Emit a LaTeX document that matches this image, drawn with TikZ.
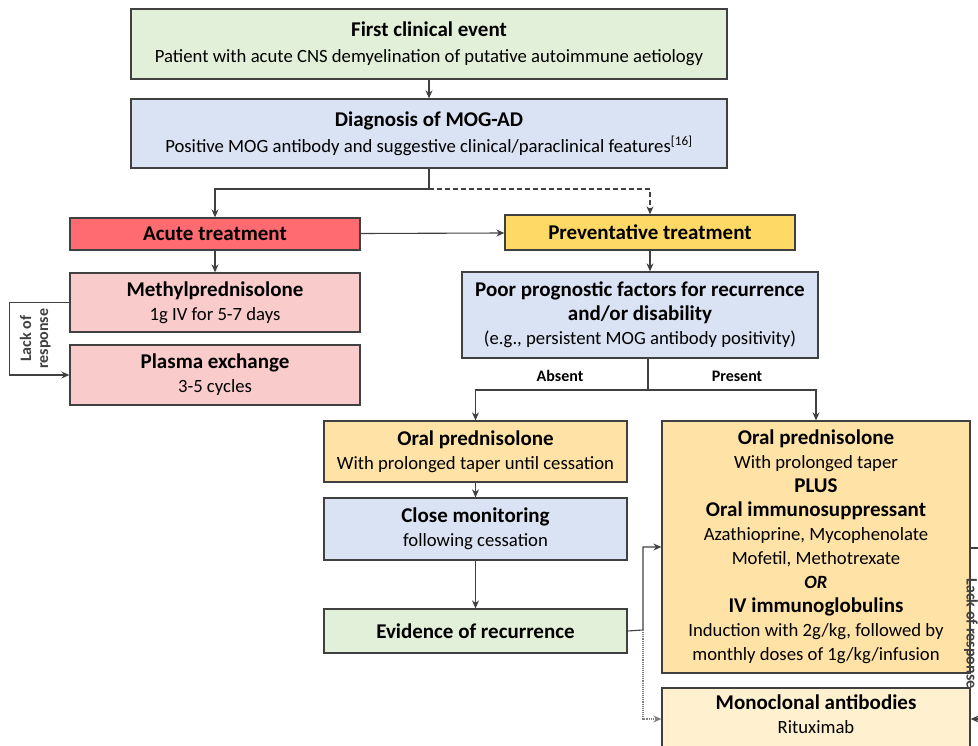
\documentclass[tikz,border=0pt]{standalone}
\usepackage{fontspec}
\setmainfont{Carlito}
\usetikzlibrary{arrows.meta}

\definecolor{evgreen}{HTML}{E2F0D9}
\definecolor{dgblue}{HTML}{DAE3F3}
\definecolor{acred}{HTML}{FF6B70}
\definecolor{acpink}{HTML}{F9CBCB}
\definecolor{pvgold}{HTML}{FFD966}
\definecolor{rxgold}{HTML}{FFE2A6}
\definecolor{mbcream}{HTML}{FFF0D0}
\definecolor{edge}{HTML}{404040}

\newcommand{\hd}[1]{{\fontsize{21}{24}\selectfont\bfseries #1}}

\tikzset{
  box/.style={rectangle,draw=edge,line width=1.3pt,align=center,inner sep=2pt,
    font=\fontsize{18.7}{24}\selectfont},
  conn/.style={edge,line width=1.1pt},
  tag/.style={font=\fontsize{16}{17}\selectfont\bfseries,align=center}
}

\begin{document}
\begin{tikzpicture}[x=1pt,y=-1pt,>={Stealth[length=8pt,width=7pt]}]
\useasboundingbox (0,0) rectangle (978,746);
\clip (0,0) rectangle (978,746);

% top of the chart
\node[box,fill=evgreen,minimum width=596,minimum height=70] (first) at (429,44)
  {\hd{First clinical event}\\[2pt]Patient with acute CNS demyelination of putative autoimmune aetiology};
\node[box,fill=dgblue,minimum width=596,minimum height=69] (diag) at (429,133.5)
  {\hd{Diagnosis of MOG-AD}\\[2pt]Positive MOG antibody and suggestive clinical/paraclinical features\textsuperscript{[16]}};

% acute branch
\node[box,fill=acred,minimum width=290,minimum height=32] (acute) at (215,234) {\hd{Acute treatment}};
\node[box,fill=acpink,minimum width=290,minimum height=59] (methyl) at (215,302.5)
  {\hd{Methylprednisolone}\\1g IV for 5-7 days};
\node[box,fill=acpink,minimum width=290,minimum height=60] (plasma) at (215,375)
  {\hd{Plasma exchange}\\3-5 cycles};

% preventative branch
\node[box,fill=pvgold,minimum width=290,minimum height=35] (prev) at (650,232.5) {\hd{Preventative treatment}};
\node[box,fill=dgblue,minimum width=356,minimum height=86] (poor) at (640,315)
  {\hd{Poor prognostic factors for recurrence}\\\hd{and/or disability}\\(e.g., persistent MOG antibody positivity)};
\node[box,fill=rxgold,minimum width=303,minimum height=61] (oralA) at (475.5,451.5)
  {\hd{Oral prednisolone}\\With prolonged taper until cessation};
\node[box,fill=dgblue,minimum width=303,minimum height=62] (close) at (475.5,529)
  {\hd{Close monitoring}\\following cessation};
\node[box,fill=evgreen,minimum width=303,minimum height=44] (evid) at (475.5,631)
  {\hd{Evidence of recurrence}};
\node[box,fill=rxgold,minimum width=308,minimum height=252] (oralB) at (816,547)
  {\hd{Oral prednisolone}\\With prolonged taper\\\hd{PLUS}\\\hd{Oral immunosuppressant}\\
   Azathioprine, Mycophenolate\\Mofetil, Methotrexate\\\textbf{\textit{OR}}\\\hd{IV immunoglobulins}\\
   Induction with 2g/kg, followed by\\monthly doses of 1g/kg/infusion};
\node[box,fill=mbcream,minimum width=308,minimum height=81,text depth=28pt] (mono) at (816,728.5)
  {\hd{Monoclonal antibodies}\\Rituximab};

\coordinate (split) at (429,189);
\coordinate (fork) at (648,390);
\coordinate (join) at (643,630);
\coordinate (back) at (985,548);

% connectors
\draw[conn,->] (first) -- (diag);
\draw[conn] (diag.south) -- (split);
\draw[conn,->] (split) -| (acute.north);
\draw[conn,->,dash pattern=on 5pt off 3pt] (split) -| (prev.north);
\draw[conn,->] (acute) -- (prev);
\draw[conn,->] (acute) -- (methyl);
\draw[conn,->] (methyl.west) -- ++(-60,0) |- (plasma.west)
  node[pos=0.25,xshift=26pt,rotate=90,tag] {Lack of\\response};
\draw[conn,->] (prev.south) -- (prev.south |- poor.north);
\draw[conn] (fork |- poor.south) -- (fork);
\draw[conn,->] (fork) -| (oralA.north);
\draw[conn,->] (fork) -| (oralB.north);
\node[tag] (absent) at (560,376) {Absent};
\node[tag] (present) at (737,376) {Present};
\draw[conn,->] (oralA) -- (close);
\draw[conn,->] (close) -- (evid);
\draw[conn,->] (evid.east) -- (join) |- (oralB.west);
\draw[conn,->,densely dotted,gray] (join) |- ([yshift=9.5pt]mono.west);
\draw[conn] (oralB.east |- back) -- (back);
\draw[conn,->] (back) |- ([yshift=9.5pt]mono.east)
  node[pos=0.25,xshift=-14pt,rotate=-90,tag] {Lack of response};
\end{tikzpicture}
\end{document}
